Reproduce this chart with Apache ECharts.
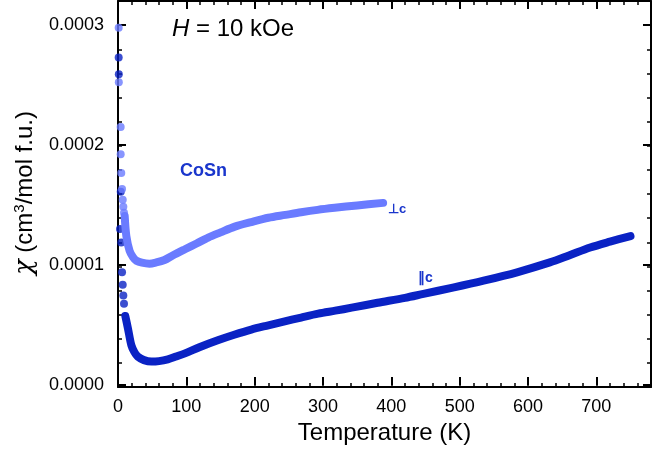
<!DOCTYPE html>
<html>
<head>
<meta charset="utf-8">
<script src="https://cdn.jsdelivr.net/npm/echarts@6/dist/echarts.min.js"></script>
<style>
  html, body { margin: 0; padding: 0; background: #fff; }
  #chart { width: 668px; height: 450px; }
</style>
</head>
<body>
<div id="chart"></div>
<script>
// chi(T) of CoSn, H = 10 kOe
const perpLowT = [1, 1.2, 3.9, 3.9, 4.8, 5.9, 6.9, 7.8, 8.8];
const perpLowChi = [0.0002978, 0.0002523, 0.0002151, 0.0001923, 0.0001766, 0.0001634, 0.0001545, 0.0001485, 0.0001435];
const perpT = [9.8, 12.2, 17, 22, 27, 35, 46, 56, 68, 80, 98, 115, 132, 150, 171, 195, 220, 245, 268, 292, 317, 350, 388];
const perpChi = [0.0001408, 0.0001242, 0.0001118, 0.0001065, 0.0001036, 0.000102, 0.0001012, 0.0001022, 0.0001042, 0.000108, 0.0001132, 0.000118, 0.0001229, 0.0001272, 0.000132, 0.0001358, 0.0001394, 0.0001418, 0.000144, 0.000146, 0.0001477, 0.0001497, 0.0001518];

const parLowT = [1, 1.2, 4, 2.9, 4.8, 5.9, 6.9, 7.8, 8.8];
const parLowChi = [0.000273, 0.000259, 0.000161, 0.00013, 0.0001187, 0.000094, 0.0000835, 0.0000746, 0.0000678];
const parT = [10.7, 14.6, 19.5, 24, 29, 38, 49, 60, 73, 85, 98, 120, 146, 170, 195, 220, 244, 268, 293, 318, 342, 380, 420, 447, 490, 535, 584, 632, 660, 691, 720, 750];
const parChi = [0.0000576, 0.0000471, 0.0000333, 0.0000275, 0.0000237, 0.0000208, 0.0000196, 0.00002, 0.0000215, 0.0000238, 0.0000264, 0.0000318, 0.0000374, 0.000042, 0.0000463, 0.0000498, 0.0000531, 0.0000563, 0.0000595, 0.000062, 0.0000645, 0.0000686, 0.0000727, 0.000076, 0.0000812, 0.000087, 0.000094, 0.0001022, 0.000108, 0.0001146, 0.0001195, 0.0001242];

const xTickLabels = [0, 100, 200, 300, 400, 500, 600, 700];
const yTickLabels = [0, 0.0001, 0.0002, 0.0003];

const perpColor = '#6a7bff';
const parColor = '#0a22c4';
const labelColor = '#1a36cc';
const FONT = 'Liberation Sans, Arial, sans-serif';

const zip = (xs, ys) => xs.map((x, i) => [x, ys[i]]);

const chart = echarts.init(document.getElementById('chart'));

// grid 0 carries the frame + short ticks, grid 1 (same box) the long ticks, labels and data
const box = { left: 118, right: 17, top: 1, bottom: 63 };
const xBase = { type: 'value', min: 0, max: 780, splitLine: { show: false }, axisLabel: { show: false } };
const yBase = { type: 'value', min: 0, max: 0.00032, splitLine: { show: false }, axisLabel: { show: false } };
const frame = { show: true, onZero: false, lineStyle: { color: '#000', width: 2 } };
const noLine = { show: false, onZero: false };
const minorTick = { show: true, inside: true, length: 4, lineStyle: { color: '#000', width: 1.5 } };
const majorTick = { show: true, inside: true, length: 8, lineStyle: { color: '#000', width: 2 } };

const option = {
  backgroundColor: '#fff',
  animation: false,
  grid: [box, box],
  xAxis: [
    { ...xBase, gridIndex: 0, position: 'bottom', interval: 20, axisLine: frame, axisTick: minorTick },
    { ...xBase, gridIndex: 0, position: 'top', interval: 20, axisLine: frame, axisTick: minorTick },
    {
      ...xBase, gridIndex: 1, position: 'bottom', interval: 100, axisLine: noLine, axisTick: majorTick,
      axisLabel: {
        show: true, margin: 13, fontSize: 18, color: '#000', fontFamily: FONT,
        formatter: v => (xTickLabels.includes(v) ? String(v) : '')
      },
      name: 'Temperature (K)', nameLocation: 'middle', nameGap: 30,
      nameTextStyle: { fontSize: 24, color: '#000', fontFamily: FONT }
    },
    { ...xBase, gridIndex: 1, position: 'top', interval: 100, axisLine: noLine, axisTick: majorTick }
  ],
  yAxis: [
    { ...yBase, gridIndex: 0, position: 'left', interval: 0.00002, axisLine: frame, axisTick: minorTick },
    { ...yBase, gridIndex: 0, position: 'right', interval: 0.00002, axisLine: frame, axisTick: minorTick },
    {
      ...yBase, gridIndex: 1, position: 'left', interval: 0.0001, axisLine: noLine, axisTick: majorTick,
      axisLabel: {
        show: true, margin: 14, fontSize: 18, color: '#000', fontFamily: FONT,
        formatter: v => {
          const hit = yTickLabels.find(t => Math.abs(t - v) < 1e-9);
          return hit === undefined ? '' : hit.toFixed(4);
        }
      },
      name: '{i|χ} (cm{s|3}/mol f.u.)', nameLocation: 'middle', nameGap: 68,
      nameTextStyle: {
        fontSize: 24, color: '#000', fontFamily: FONT,
        rich: {
          i: { fontSize: 26, fontStyle: 'italic', color: '#000', fontFamily: 'DejaVu Serif, serif' },
          s: { fontSize: 15, color: '#000', fontFamily: FONT, verticalAlign: 'top', padding: [0, 0, 9, 0] }
        }
      }
    },
    { ...yBase, gridIndex: 1, position: 'right', interval: 0.0001, axisLine: noLine, axisTick: majorTick }
  ],
  graphic: [
    {
      type: 'text', left: 172, top: 17,
      style: {
        text: '{i|H} = 10 kOe', fill: '#000', font: '24px ' + FONT,
        rich: { i: { fontStyle: 'italic', fontSize: 24, fontFamily: FONT, fill: '#000' } }
      }
    },
    { type: 'text', left: 180, top: 162, style: { text: 'CoSn', fill: labelColor, font: 'bold 18px ' + FONT } },
    { type: 'text', left: 388, top: 203, style: { text: '⊥c', fill: labelColor, font: 'bold 13px ' + FONT } },
    { type: 'text', left: 418, top: 271, style: { text: '∥c', fill: labelColor, font: 'bold 14px ' + FONT } }
  ],
  series: [
    {
      name: 'par-curve', type: 'line', xAxisIndex: 2, yAxisIndex: 2,
      data: zip(parT, parChi), smooth: 0.3, showSymbol: false,
      lineStyle: { color: parColor, width: 8, cap: 'round', join: 'round' }
    },
    {
      name: 'par-low', type: 'scatter', xAxisIndex: 2, yAxisIndex: 2,
      data: zip(parLowT, parLowChi), symbolSize: 8, itemStyle: { color: parColor }
    },
    {
      name: 'perp-curve', type: 'line', xAxisIndex: 2, yAxisIndex: 2,
      data: zip(perpT, perpChi), smooth: 0.3, showSymbol: false,
      lineStyle: { color: perpColor, width: 8, cap: 'round', join: 'round' }
    },
    {
      name: 'perp-low', type: 'scatter', xAxisIndex: 2, yAxisIndex: 2,
      data: zip(perpLowT, perpLowChi), symbolSize: 8, itemStyle: { color: perpColor }
    }
  ]
};

chart.setOption(option);
</script>
</body>
</html>
